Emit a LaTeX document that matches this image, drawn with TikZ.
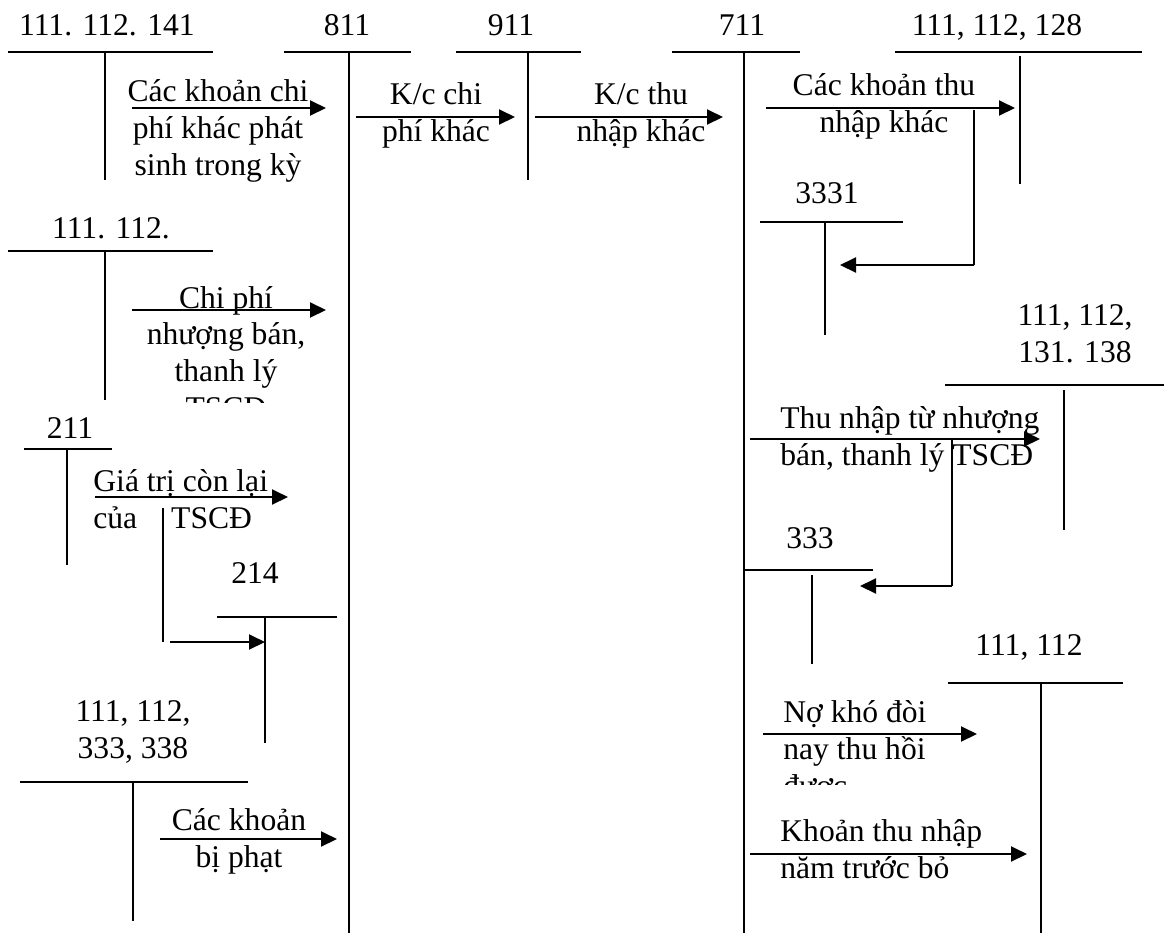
\documentclass[tikz,border=0pt]{standalone}
\usepackage{fontspec}
\setmainfont{Liberation Serif}
\usetikzlibrary{arrows.meta,positioning}
\tikzset{
  acc/.style={font=\fontsize{15.8}{18.3}\selectfont, inner sep=0pt, anchor=base},
  lbl/.style={font=\fontsize{15.8}{18.3}\selectfont, inner sep=0pt, anchor=base, align=center},
  lbll/.style={lbl, align=left, anchor=base west},
  tline/.style={line width=1pt},
  arrow/.style={-{Triangle[length=8pt,width=7.5pt]}, line width=1pt}
}
\begin{document}
\begin{tikzpicture}[x=0.5pt,y=-0.5pt]
  \useasboundingbox (0,0) rectangle (1164,933);
  % top row of accounts
  \node[acc] (a141) at (107,35) {111. 112. 141};
  \draw[tline] (8,52) -- (213,52) (105,52) -- (105,180);
  \node[acc] (a811) at (347,35) {811};
  \draw[tline] (284,52) -- (411,52) (349,52) -- (349,933);
  \node[acc] (a911) at (511,35) {911};
  \draw[tline] (456,52) -- (581,52) (528,52) -- (528,180);
  \node[acc] (a711) at (742,35) {711};
  \draw[tline] (672,52) -- (800,52) (744,52) -- (744,933);
  \node[acc] (a128) at (997,35) {111, 112, 128};
  \draw[tline] (895,52) -- (1142,52) (1020,56) -- (1020,184);

  % multi-line labels sit on the baseline of their last line
  \coordinate (s1) at (132,108); \coordinate (e1) at (326,108);
  \draw[arrow] (s1) -- (e1);
  \node[lbl] (t1) at (218,175) {Các khoản chi\\phí khác phát\\sinh trong kỳ};
  \coordinate (s2) at (356,117); \coordinate (e2) at (515,117);
  \draw[arrow] (s2) -- (e2);
  \node[lbl] (t2) at (436,141) {K/c chi\\phí khác};
  \coordinate (s3) at (535,117); \coordinate (e3) at (723,117);
  \draw[arrow] (s3) -- (e3);
  \node[lbl] (t3) at (641,141) {K/c thu\\nhập khác};
  \coordinate (s4) at (766,108); \coordinate (e4) at (1015,108);
  \draw[arrow] (s4) -- (e4);
  \node[lbl] (t4) at (884,132) {Các khoản thu\\nhập khác};

  % VAT branch
  \node[acc] (a3331) at (827,203) {3331};
  \draw[tline] (760,222) -- (903,222) (825,222) -- (825,335);
  \coordinate (b4) at (974,110); \coordinate (c4) at (974,265); \coordinate (e5) at (840,265);
  \draw[tline] (b4) -- (c4);
  \draw[arrow] (c4) -- (e5);

  % left side
  \node[acc] (a112) at (111,238) {111. 112.};
  \draw[tline] (8,251) -- (213,251) (105,251) -- (105,400);
  \coordinate (s6) at (132,310); \coordinate (e6) at (326,310);
  \draw[arrow] (s6) -- (e6);
  \begin{scope}
    \clip (0,0) rectangle (1164,402);
    \node[lbl] (t6) at (226,418) {Chi phí\\nhượng bán,\\thanh lý\\TSCĐ};
  \end{scope}

  \node[acc] (a211) at (70,438) {211};
  \draw[tline] (24,449) -- (112,449) (67,449) -- (67,565);
  \coordinate (s7) at (95,497); \coordinate (e7) at (288,497);
  \draw[arrow] (s7) -- (e7);
  \node[lbll] (t7) at (93,528) {Giá trị còn lại\\của\hspace{17pt}TSCĐ};
  \coordinate (b7) at (163,508); \coordinate (c7) at (163,642);
  \coordinate (s8) at (170,642); \coordinate (e8) at (265,642);
  \draw[tline] (b7) -- (c7);
  \draw[arrow] (s8) -- (e8);
  \node[acc] (a214) at (255,583) {214};
  \draw[tline] (217,617) -- (337,617) (265,617) -- (265,743);

  \node[lbl] (a338) at (133,758) {111, 112,\\333, 338};
  \draw[tline] (20,782) -- (248,782) (133,782) -- (133,921);
  \coordinate (s9) at (160,839); \coordinate (e9) at (337,839);
  \draw[arrow] (s9) -- (e9);
  \node[lbl] (t9) at (239,867) {Các khoản\\bị phạt};

  % right side
  \node[lbl] (a138) at (1075,362) {111, 112,\\131. 138};
  \draw[tline] (945,385) -- (1164,385) (1064,390) -- (1064,530);
  \coordinate (s10) at (750,439); \coordinate (e10) at (1040,439);
  \draw[arrow] (s10) -- (e10);
  \node[lbll] (t10) at (780,465) {Thu nhập từ nhượng\\bán, thanh lý TSCĐ};
  \coordinate (b10) at (952,440); \coordinate (c10) at (952,586); \coordinate (e11) at (860,586);
  \draw[tline] (b10) -- (c10);
  \draw[arrow] (c10) -- (e11);
  \node[acc] (a333) at (810,548) {333};
  \draw[tline] (743,570) -- (873,570) (812,575) -- (812,664);

  \node[acc] (a112b) at (1029,655) {111, 112};
  \draw[tline] (948,683) -- (1123,683) (1041,683) -- (1041,933);
  \coordinate (s12) at (763,734); \coordinate (e12) at (977,734);
  \draw[arrow] (s12) -- (e12);
  \begin{scope}
    \clip (0,0) rectangle (1164,784);
    \node[lbll] (t12) at (783,796) {Nợ khó đòi\\nay thu hồi\\được};
  \end{scope}
  \coordinate (s13) at (750,854); \coordinate (e13) at (1027,854);
  \draw[arrow] (s13) -- (e13);
  \node[lbll] (t13) at (780,878) {Khoản thu nhập\\năm trước bỏ};
\end{tikzpicture}
\end{document}
